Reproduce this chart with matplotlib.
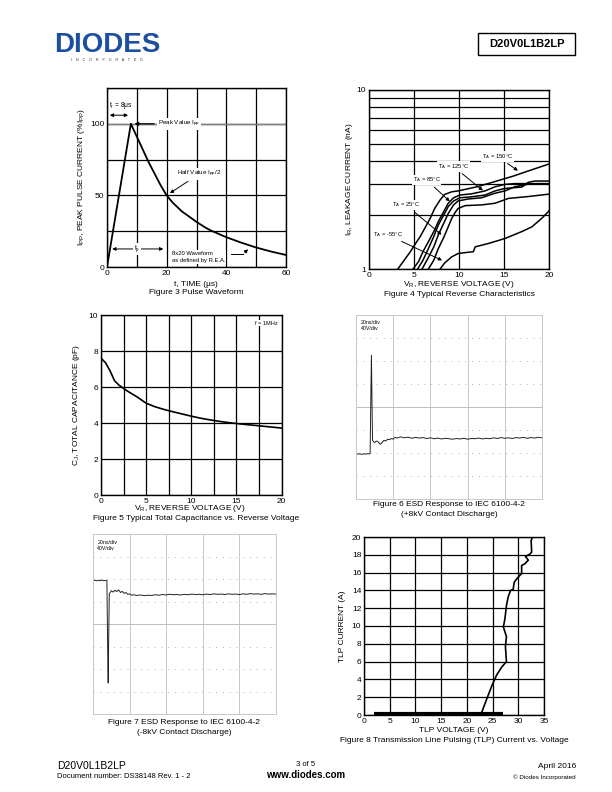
import matplotlib.pyplot as plt
import numpy as np

plt.rcParams['font.family'] = ['Liberation Sans', 'DejaVu Sans']
plt.rcParams['mathtext.fontset'] = 'custom'
plt.rcParams['mathtext.rm'] = 'Liberation Sans'
plt.rcParams['mathtext.it'] = 'Liberation Sans'

# ---- Figure 3: pulse waveform
pulse_t = [0, 8, 10, 12, 14, 16, 18, 20, 22, 25, 28, 30, 33, 35, 40, 45, 50, 55, 60]
pulse_i = [0, 100, 91, 82, 73, 65, 57, 50, 45, 39, 34.5, 31.5, 27.5, 25.3, 20.8, 17, 13.6, 10.8, 8.4]

# ---- Figure 4: reverse characteristics (V, nA)
v_150 = [3.2, 3.8, 4.6, 5.1, 5.7, 6.2, 6.8, 7.3, 7.9, 8.4, 9.2, 9.9, 12.0, 14.0, 16.0, 17.7, 20.0]
i_150 = [1.0, 1.10, 1.25, 1.37, 1.52, 1.69, 1.92, 2.18, 2.43, 2.61, 2.70, 2.73, 2.88, 3.08, 3.30, 3.53, 3.86]
v_125 = [4.9, 5.5, 6.0, 6.6, 7.2, 7.7, 8.3, 8.8, 9.4, 10.1, 11.4, 12.9, 14.0, 15.1, 16.2, 17.7, 20.0]
i_125 = [1.0, 1.10, 1.25, 1.42, 1.62, 1.84, 2.09, 2.33, 2.50, 2.59, 2.63, 2.73, 2.88, 2.97, 3.0, 3.0, 3.0]
v_85 = [5.4, 6.0, 6.6, 7.2, 7.7, 8.3, 8.8, 9.4, 10.1, 11.4, 12.9, 14.0, 15.1, 17.0, 17.7, 18.4, 20.0]
i_85 = [1.0, 1.12, 1.30, 1.52, 1.76, 2.0, 2.23, 2.40, 2.50, 2.53, 2.59, 2.73, 2.82, 2.87, 3.05, 3.10, 3.10]
v_25 = [5.9, 6.6, 7.2, 7.7, 8.3, 8.8, 9.4, 9.9, 11.0, 12.5, 14.0, 15.1, 16.2, 17.7, 20.0]
i_25 = [1.0, 1.16, 1.33, 1.55, 1.80, 2.04, 2.28, 2.40, 2.46, 2.50, 2.65, 2.73, 2.88, 2.98, 2.98]
v_x = [6.6, 7.2, 7.7, 8.3, 8.8, 9.2, 9.6, 9.9, 10.7, 12.5, 14.0, 15.5, 17.7, 20.0]
i_x = [1.0, 1.12, 1.30, 1.50, 1.72, 1.92, 2.08, 2.18, 2.26, 2.28, 2.33, 2.48, 2.54, 2.62]
v_m55 = [7.9, 8.4, 9.2, 9.9, 11.0, 11.6, 11.8, 13.3, 15.1, 17.0, 18.1, 19.2, 20.0]
i_m55 = [1.0, 1.08, 1.17, 1.22, 1.24, 1.25, 1.33, 1.39, 1.48, 1.62, 1.72, 1.92, 2.11]

# ---- Figure 5: capacitance
cap_v = [0, 0.5, 1.0, 1.5, 2.0, 2.5, 3, 4, 5, 6, 7, 8, 9, 10, 11, 12, 13, 14, 15, 16, 17, 18, 19, 20]
cap_c = [7.6, 7.35, 6.9, 6.35, 6.1, 5.92, 5.75, 5.45, 5.1, 4.9, 4.75, 4.62, 4.5, 4.38, 4.27, 4.18, 4.1, 4.03, 3.97, 3.92, 3.87, 3.82, 3.77, 3.72]

# ---- Figure 6 / 7: scope traces (divisions)
esd_head_t = [0, 0.05, 0.1, 0.15, 0.2, 0.25, 0.3, 0.35, 0.38, 0.40, 0.415, 0.43, 0.445, 0.47,
              0.5, 0.55, 0.6, 0.65, 0.7, 0.75, 0.8, 0.85, 0.9, 0.95, 1.0, 1.05, 1.1]
esd_pos_head = [1.98, 1.95, 1.97, 1.94, 1.96, 1.95, 1.97, 1.96, 1.98, 4.6, 6.25, 4.2, 2.55, 2.5,
                2.45, 2.52, 2.48, 2.38, 2.45, 2.55, 2.52, 2.6, 2.58, 2.63, 2.6, 2.68, 2.65]
esd_pos_tail = [2.70, 2.66, 2.69, 2.64, 2.68, 2.65, 2.67, 2.63, 2.66, 2.62, 2.65, 2.61, 2.64,
                2.62, 2.60, 2.63, 2.61, 2.64, 2.60, 2.63, 2.62, 2.65, 2.61, 2.64, 2.62, 2.66,
                2.63, 2.67, 2.64, 2.66, 2.63, 2.67, 2.65, 2.68, 2.64, 2.67, 2.65, 2.68, 2.66]
esd_neg_head = [5.93, 5.95, 5.92, 5.94, 5.93, 5.95, 5.92, 5.94, 5.93, 3.0, 1.38, 3.5, 5.35, 5.4,
                5.48, 5.42, 5.5, 5.44, 5.52, 5.4, 5.45, 5.36, 5.4, 5.32, 5.34, 5.28, 5.3]
esd_neg_tail = [5.27, 5.29, 5.26, 5.28, 5.27, 5.30, 5.28, 5.31, 5.29, 5.32, 5.30, 5.31, 5.29,
                5.32, 5.30, 5.33, 5.31, 5.32, 5.30, 5.33, 5.31, 5.34, 5.32, 5.33, 5.31, 5.34,
                5.32, 5.33, 5.31, 5.34, 5.32, 5.35, 5.33, 5.34, 5.32, 5.35, 5.33, 5.34, 5.33]
esd_tail_t = np.round(np.arange(1.2, 5.01, 0.1), 2)

# ---- Figure 8: TLP
tlp_v = [22.7, 23.8, 24.8, 25.8, 26.8, 27.7, 27.5, 27.7, 27.1, 27.4, 27.7, 28.05, 28.5, 29.0,
         29.2, 29.7, 30.65, 30.65, 31.3, 31.95, 31.4, 32.3, 32.6, 32.5, 32.9]
tlp_i = [0, 1.7, 3.2, 4.5, 5.4, 6.0, 7.7, 8.8, 9.9, 10.8, 12.3, 13.3, 14.0, 14.1,
         14.9, 15.3, 15.9, 16.8, 17.0, 17.4, 17.8, 18.1, 18.3, 19.6, 20.2]
tlp_leak_v = [1.95, 27.1]
tlp_leak_i = [0.08, 0.08]

W, H = 612, 792
fig = plt.figure(figsize=(6.12, 7.92), dpi=100)


def box(l, t, r, b):
    return [l / W, 1 - b / H, (r - l) / W, (b - t) / H]


def ptxt(x, y, s, **kw):
    kw.setdefault('ha', 'center')
    kw.setdefault('va', 'center')
    kw.setdefault('fontsize', 6)
    fig.text(x / W, 1 - y / H, s, **kw)


def style(ax):
    for s in ax.spines.values():
        s.set_linewidth(1.0)
        s.set_color('black')
    ax.tick_params(which='both', length=0, labelsize=6, pad=2)
    ax.set_axisbelow(True)


def scope(ax):
    ax.set_xlim(0, 5)
    ax.set_ylim(0, 8)
    ax.set_xticks(range(6))
    ax.set_yticks(range(9))
    ax.set_xticklabels([])
    ax.set_yticklabels([])
    ax.tick_params(length=0)
    ax.grid(axis='x', color='#c8c8c8', lw=0.7)
    ax.grid(axis='y', color='#b0b0b0', lw=0.7, ls=(0, (1, 6)))
    ax.axhline(4, color='#bdbdbd', lw=0.7)
    for s in ax.spines.values():
        s.set_color('#c8c8c8')
        s.set_linewidth(0.7)


arr = dict(arrowstyle='-|>', color='black', lw=0.7, mutation_scale=5)
wbox = dict(facecolor='white', edgecolor='none', pad=0.6)

# ================= Figure 3
ax3 = fig.add_axes(box(107, 88, 286, 267))
style(ax3)
ax3.set_xlim(0, 60)
ax3.set_ylim(0, 125)
ax3.set_xticks(range(0, 61, 10))
ax3.set_xticklabels(['0', '', '20', '', '40', '', '60'])
ax3.set_yticks(range(0, 126, 25))
ax3.set_yticklabels(['0', '', '50', '', '100', ''])
ax3.grid(True, color='black', lw=0.9)
ax3.axhline(100, color='#808080', lw=1.0, zorder=1)
ax3.plot(pulse_t, pulse_i, color='black', lw=1.3, zorder=3)
ax3.annotate('', xy=(0, 106), xytext=(8, 106), arrowprops=dict(arrowstyle='<|-|>', color='black', lw=0.7, mutation_scale=5))
ax3.text(0.8, 113, 't$_r$ = 8$\\mu$s', fontsize=4.8, va='center')
ax3.annotate('Peak Value I$_{pp}$', xy=(8.3, 100), xytext=(17, 100), fontsize=4.5, va='center',
             bbox=wbox, arrowprops=dict(arrowstyle='-|>', color='black', lw=0.9, mutation_scale=5), zorder=4)
ax3.annotate('Half Value I$_{pp}$/2', xy=(20.3, 50.5), xytext=(23.5, 65), fontsize=4.5, va='center',
             bbox=wbox, arrowprops=arr, zorder=4)
ax3.annotate('', xy=(0.8, 12.6), xytext=(19.8, 12.6),
             arrowprops=dict(arrowstyle='<|-|>', color='black', lw=0.7, mutation_scale=5))
ax3.text(10, 12.6, 't$_p$', fontsize=4.8, ha='center', va='center', bbox=wbox)
ax3.text(21.7, 7, '8x20 Waveform\nas defined by R.E.A.', fontsize=4.2, va='center', bbox=wbox,
         linespacing=1.4)
ax3.plot([41.5, 45.5], [9.0, 9.0], color='black', lw=0.7)
ax3.annotate('', xy=(48.0, 13.6), xytext=(45.5, 9.0), arrowprops=arr)
ax3.set_ylabel('I$_{PP}$, PEAK PULSE CURRENT (%I$_{PP}$)', fontsize=6, labelpad=2)
ptxt(196, 284, 't, TIME (µs)')
ptxt(196, 292, 'Figure 3 Pulse Waveform')

# ================= Figure 4
ax4 = fig.add_axes(box(369, 90, 549, 269))
style(ax4)
ax4.set_yscale('log')
ax4.set_xlim(0, 20)
ax4.set_ylim(1, 10)
ax4.set_xticks([0, 5, 10, 15, 20])
ax4.set_yticks([1, 10])
ax4.set_yticklabels(['1', '10'])
ax4.set_yticks([2, 3, 4, 5, 6, 7, 8, 9], minor=True)
ax4.yaxis.set_minor_formatter(plt.NullFormatter())
ax4.grid(True, which='both', color='black', lw=0.9)
for vv, ii in [(v_150, i_150), (v_125, i_125), (v_85, i_85), (v_25, i_25), (v_x, i_x), (v_m55, i_m55)]:
    ax4.plot(vv, ii, color='black', lw=1.1, zorder=3)
lab_kw = dict(fontsize=4.2, ha='center', va='center', bbox=wbox, arrowprops=arr, zorder=4)
ax4.annotate('T$_A$ = 150°C', xy=(16.8, 3.47), xytext=(14.3, 4.24), **lab_kw)
ax4.annotate('T$_A$ = 125°C', xy=(12.9, 2.68), xytext=(9.4, 3.73), **lab_kw)
ax4.annotate('T$_A$ = 85°C', xy=(9.2, 2.33), xytext=(6.4, 3.14), **lab_kw)
ax4.annotate('T$_A$ = 25°C', xy=(8.3, 1.52), xytext=(4.1, 2.28), **lab_kw)
ax4.annotate('T$_A$ = -55°C', xy=(8.4, 1.10), xytext=(2.1, 1.55), **lab_kw)
ax4.set_ylabel('I$_R$, LEAKAGE CURRENT (nA)', fontsize=6, labelpad=1)
ptxt(459, 284, 'V$_R$, REVERSE VOLTAGE (V)')
ptxt(459, 294, 'Figure 4 Typical Reverse Characteristics')

# ================= Figure 5
ax5 = fig.add_axes(box(101, 315, 281.5, 495))
style(ax5)
ax5.set_xlim(0, 20)
ax5.set_ylim(0, 10)
ax5.set_xticks(np.arange(0, 20.1, 2.5))
ax5.set_xticklabels(['0', '', '5', '', '10', '', '15', '', '20'])
ax5.set_yticks(range(0, 11, 2))
ax5.grid(True, color='black', lw=0.9)
ax5.plot(cap_v, cap_c, color='black', lw=1.2, zorder=3)
ax5.text(19.6, 9.55, 'f = 1MHz', fontsize=4, ha='right', va='center', bbox=wbox)
ax5.set_ylabel('C$_J$, TOTAL CAPACITANCE (pF)', fontsize=6, labelpad=5)
ptxt(190, 509, 'V$_R$, REVERSE VOLTAGE (V)')
ptxt(196, 519, 'Figure 5 Typical Total Capacitance vs. Reverse Voltage')

# ================= Figure 6
ax6 = fig.add_axes(box(356, 315, 542, 499))
scope(ax6)
ax6.plot(list(esd_head_t) + list(esd_tail_t), esd_pos_head + esd_pos_tail, color='#222222', lw=0.7)
ax6.text(0.12, 7.55, '20ns/div\n40V/div', fontsize=3.8, va='center', linespacing=1.3)
ptxt(449, 505, 'Figure 6 ESD Response to IEC 6100-4-2')
ptxt(449, 515, '(+8kV Contact Discharge)')

# ================= Figure 7
ax7 = fig.add_axes(box(93, 534, 276, 714))
scope(ax7)
ax7.plot(list(esd_head_t) + list(esd_tail_t), esd_neg_head + esd_neg_tail, color='#222222', lw=0.7)
ax7.text(0.12, 7.5, '20ns/div\n40V/div', fontsize=3.8, va='center', linespacing=1.3)
ptxt(184, 722, 'Figure 7 ESD Response to IEC 6100-4-2')
ptxt(184, 733, '(-8kV Contact Discharge)')

# ================= Figure 8
ax8 = fig.add_axes(box(364, 537, 544, 715))
style(ax8)
ax8.set_xlim(0, 35)
ax8.set_ylim(0, 20)
ax8.set_xticks(range(0, 36, 5))
ax8.set_yticks(range(0, 21, 2))
ax8.grid(True, color='black', lw=0.9)
ax8.plot(tlp_leak_v, tlp_leak_i, color='black', lw=3, solid_capstyle='butt', zorder=3)
ax8.plot(tlp_v, tlp_i, color='black', lw=1.2, zorder=3)
ax8.set_ylabel('TLP CURRENT (A)', fontsize=6, labelpad=4)
ptxt(454, 731, 'TLP VOLTAGE (V)')
ptxt(454, 741, 'Figure 8 Transmission Line Pulsing (TLP) Current vs. Voltage')

# ================= header / footer
ptxt(107, 45, 'DIODES', fontsize=20, weight='bold', color='#1c4fa0')
ptxt(107, 60, 'I    N    C    O    R    P    O    R    A    T    E    D', fontsize=2.6, color='#333333')
fig.patches.append(plt.Rectangle((478 / W, 1 - 55 / H), 97 / W, 22 / H, transform=fig.transFigure,
                                 fill=False, edgecolor='black', lw=1.0))
ptxt(526.5, 44, 'D20V0L1B2LP', fontsize=8, weight='bold')
ptxt(57, 766, 'D20V0L1B2LP', fontsize=7.5, ha='left')
ptxt(57, 777, 'Document number: DS38148 Rev. 1 - 2', fontsize=5.5, ha='left')
ptxt(306, 765, '3 of 5', fontsize=5.5)
ptxt(306, 775, 'www.diodes.com', fontsize=7, weight='bold')
ptxt(576, 767, 'April 2016', fontsize=6, ha='right')
ptxt(576, 777, '© Diodes Incorporated', fontsize=4.5, ha='right')

fig.savefig('out.png', dpi=100)
